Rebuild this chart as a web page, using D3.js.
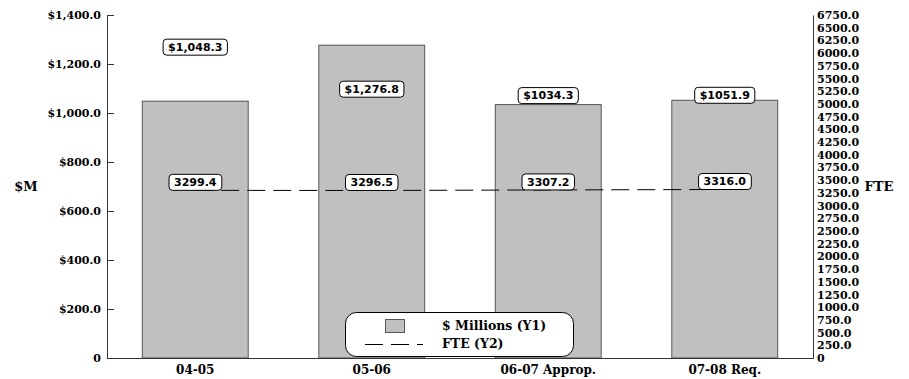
<!DOCTYPE html>
<html>
<head>
<meta charset="utf-8">
<script src="https://cdn.jsdelivr.net/npm/d3@7"></script>
<style>
  body { margin: 0; background: #fff; }
  svg text { font-family: "DejaVu Serif", serif; font-weight: bold; fill: #000; }
  .lbl text { font-family: "DejaVu Sans", sans-serif; font-size: 11px; }
</style>
</head>
<body>
<svg id="chart" width="909" height="379"></svg>
<script>
const categories = ['04-05', '05-06', '06-07 Approp.', '07-08 Req.'];
const millions = [1048.3, 1276.8, 1034.3, 1051.9];
const millionLabels = ['$1,048.3', '$1,276.8', '$1034.3', '$1051.9'];
const fte = [3299.4, 3296.5, 3307.2, 3316.0];
const leftTicks = [0, 200, 400, 600, 800, 1000, 1200, 1400];
const rightTicks = d3.range(0, 6751, 250);

const svg = d3.select('#chart');
const plotTop = 15, plotBottom = 358, plotLeft = 107, plotRight = 813;

const x = d3.scaleBand().domain(categories).range([plotLeft, plotRight])
    .paddingInner(0.4).paddingOuter(0.2);
const y1 = d3.scaleLinear().domain([0, 1400]).range([plotBottom, plotTop]);
const y2 = d3.scaleLinear().domain([0, 6750]).range([plotBottom, plotTop]);

// bars
svg.append('g').selectAll('rect')
    .data(millions)
    .join('rect')
    .attr('x', (d, i) => x(categories[i]))
    .attr('y', d => y1(d))
    .attr('width', x.bandwidth())
    .attr('height', d => y1(0) - y1(d))
    .attr('fill', '#c0c0c0')
    .attr('stroke', '#555')
    .attr('stroke-width', 1);

// left axis
const gl = svg.append('g')
    .attr('transform', `translate(${plotLeft},0)`)
    .call(d3.axisLeft(y1).tickValues(leftTicks).tickSize(-7).tickSizeOuter(0).tickPadding(6)
        .tickFormat(d => d === 0 ? '0' : '$' + d3.format(',.1f')(d)));
gl.selectAll('text').style('font-size', '11px');
gl.selectAll('line, path').attr('stroke', '#333');

// right axis
const gr = svg.append('g')
    .attr('transform', `translate(${plotRight},0)`)
    .call(d3.axisRight(y2).tickValues(rightTicks).tickSize(0).tickSizeOuter(0).tickPadding(4)
        .tickFormat(d => d === 0 ? '0' : d3.format('.1f')(d)));
gr.selectAll('text').style('font-size', '11px');
gr.selectAll('path').attr('stroke', '#333');

// x axis
const gx = svg.append('g')
    .attr('transform', `translate(0,${plotBottom})`)
    .call(d3.axisBottom(x).tickSize(0).tickSizeOuter(0).tickPadding(7));
gx.selectAll('text').style('font-size', '12px');
gx.select('path').attr('stroke', '#333');

// axis titles
svg.append('text').attr('x', 26).attr('y', 191).attr('text-anchor', 'middle')
    .style('font-size', '13px').text('$M');
svg.append('text').attr('x', 879).attr('y', 191).attr('text-anchor', 'middle')
    .style('font-size', '13px').text('FTE');

// FTE line
const line = d3.line().x((d, i) => x(categories[i]) + x.bandwidth() / 2).y(d => y2(d));
svg.append('path')
    .datum(fte)
    .attr('d', line)
    .attr('fill', 'none')
    .attr('stroke', '#000')
    .attr('stroke-width', 1)
    .attr('stroke-dasharray', '18,8');

// labels in rounded boxes
function boxLabel(g, cx, cy, txt) {
    const t = g.append('text').attr('x', cx).attr('y', cy).attr('text-anchor', 'middle')
        .attr('dy', '0.35em').text(txt);
    const bb = t.node().getBBox();
    g.insert('rect', 'text')
        .attr('x', bb.x - 5).attr('y', cy - 8)
        .attr('width', bb.width + 10).attr('height', 16)
        .attr('rx', 3.5)
        .attr('fill', '#fff').attr('stroke', '#000').attr('stroke-width', 1);
}
const moneyOffset = [-54, 44, -9, -5];
millions.forEach((d, i) => {
    const g = svg.append('g').attr('class', 'lbl');
    boxLabel(g, x(categories[i]) + x.bandwidth() / 2, y1(d) + moneyOffset[i], millionLabels[i]);
});
fte.forEach((d, i) => {
    const g = svg.append('g').attr('class', 'lbl');
    boxLabel(g, x(categories[i]) + x.bandwidth() / 2, y2(d) - 8, d3.format('.1f')(d));
});

// legend
const lg = svg.append('g');
lg.append('rect').attr('x', 345.5).attr('y', 312.5).attr('width', 228).attr('height', 44)
    .attr('rx', 11).attr('fill', '#fff').attr('stroke', '#000');
lg.append('rect').attr('x', 385.5).attr('y', 319.5).attr('width', 19).attr('height', 13)
    .attr('fill', '#c0c0c0').attr('stroke', '#555');
lg.append('line').attr('x1', 365).attr('x2', 423).attr('y1', 344.5).attr('y2', 344.5)
    .attr('stroke', '#000').attr('stroke-dasharray', '18,8');
lg.append('text').attr('x', 442).attr('y', 326).attr('dy', '0.35em')
    .style('font-size', '12.5px').text('$ Millions (Y1)');
lg.append('text').attr('x', 442).attr('y', 344).attr('dy', '0.35em')
    .style('font-size', '12.5px').text('FTE (Y2)');
</script>
</body>
</html>
